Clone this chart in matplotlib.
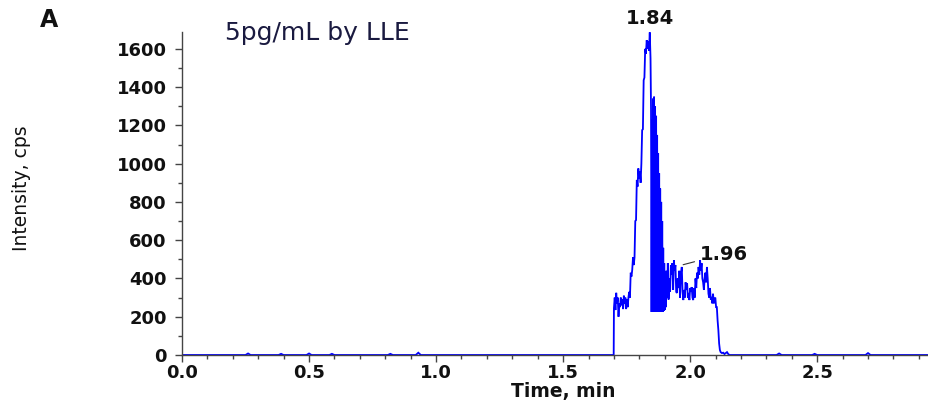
import matplotlib
matplotlib.use("Agg")
import matplotlib.pyplot as plt
from matplotlib.ticker import MultipleLocator, FormatStrFormatter

# ---------------- data ----------------
time_min = [
    0.00, 0.25, 0.26, 0.27, 0.38, 0.39, 0.40, 0.49, 0.50, 0.51, 0.58, 0.59, 0.60,
    0.81, 0.82, 0.83, 0.92, 0.93, 0.94, 1.699,
    1.700, 1.703, 1.706, 1.709, 1.712, 1.715, 1.718, 1.721, 1.724, 1.727, 1.730,
    1.733, 1.736, 1.739, 1.742, 1.745, 1.748, 1.751, 1.754, 1.757, 1.760, 1.763,
    1.766, 1.769, 1.772, 1.775, 1.778, 1.781, 1.784, 1.787, 1.790, 1.793, 1.796,
    1.799, 1.802, 1.805, 1.808, 1.811, 1.814, 1.817, 1.820, 1.823, 1.826, 1.829,
    1.832, 1.835, 1.838, 1.841, 1.844, 1.846,
    1.848, 1.850, 1.852, 1.854, 1.856, 1.858, 1.860, 1.862, 1.864, 1.866, 1.868,
    1.870, 1.872, 1.874, 1.876, 1.878, 1.880, 1.882, 1.884, 1.886, 1.888, 1.890,
    1.892, 1.894, 1.896, 1.898, 1.900, 1.902, 1.904, 1.906,
    1.909, 1.912, 1.915, 1.918, 1.921, 1.924, 1.927, 1.930, 1.933, 1.936, 1.939,
    1.942, 1.945, 1.948, 1.951, 1.954, 1.957, 1.960, 1.963, 1.967, 1.970, 1.973,
    1.976, 1.979, 1.982, 1.985, 1.988, 1.991, 1.994, 1.997, 2.000, 2.003, 2.006,
    2.009, 2.012, 2.015, 2.018, 2.021, 2.024, 2.027, 2.030, 2.033, 2.036, 2.039,
    2.042, 2.045, 2.048, 2.051, 2.054, 2.057, 2.060, 2.063, 2.066, 2.069, 2.072,
    2.075, 2.078, 2.081, 2.084, 2.087, 2.090, 2.093, 2.096, 2.099, 2.102, 2.105,
    2.108, 2.111, 2.114, 2.117, 2.120, 2.125, 2.130, 2.135, 2.140, 2.145, 2.150,
    2.155, 2.34, 2.35, 2.36, 2.48, 2.49, 2.50, 2.69, 2.70, 2.71, 2.94,
]
intensity_cps = [
    0, 0, 8, 0, 0, 6, 0, 0, 8, 0, 0, 6, 0,
    0, 6, 0, 0, 12, 0, 0,
    245, 300, 235, 325, 270, 300, 200, 270, 250, 300, 260,
    290, 240, 310, 270, 300, 240, 290, 250, 300, 330, 300,
    430, 410, 445, 510, 470, 510, 700, 705, 915, 880, 975,
    920, 960, 900, 1000, 1175, 1180, 1436, 1450, 1600, 1575, 1645,
    1600, 1640, 1590, 1686, 1550, 1280,
    225, 1230, 225, 1340, 230, 1350, 225, 1300, 230, 1250, 225,
    1150, 230, 1055, 225, 950, 230, 870, 225, 800, 230, 700,
    225, 560, 230, 480, 235, 430, 250, 440,
    300, 480, 290, 400, 330, 470, 420, 480, 340, 496, 440,
    470, 330, 324, 400, 350, 440, 300, 420, 460, 330, 287,
    340, 300, 380, 340, 375, 300, 324, 287, 350, 330, 355,
    300, 287, 350, 300, 400, 350, 430, 400, 460, 420, 496,
    440, 480, 400, 380, 340, 400, 430, 380, 460, 400, 320,
    300, 350, 290, 303, 270, 320, 270, 290, 300, 250, 250,
    180, 130, 60, 26, 15, 10, 12, 5, 10, 15, 5,
    0, 0, 8, 0, 0, 6, 0, 0, 10, 0, 0,
]

peak_labels = ["1.84", "1.96"]
peak_times = [1.841, 1.967]
peak_heights = [1686, 460]

panel_label = "A"
sample_label = "5pg/mL by LLE"
x_label = "Time, min"
y_label = "Intensity, cps"

# ---------------- figure ----------------
W, H = 929, 407
fig = plt.figure(figsize=(W / 100, H / 100), dpi=100)
ax = fig.add_axes([182 / W, (H - 355) / H, (W - 182) / W, (355 - 32) / H])

ax.plot(time_min, intensity_cps, color="#0000ff", lw=1.3, solid_joinstyle="miter")

ax.set_xlim(0, 2.94)
ax.set_ylim(0, 1688)

for s in ["top", "right"]:
    ax.spines[s].set_visible(False)
for s in ["left", "bottom"]:
    ax.spines[s].set_color("#444444")
    ax.spines[s].set_linewidth(1.0)

ax.xaxis.set_major_locator(MultipleLocator(0.5))
ax.xaxis.set_minor_locator(MultipleLocator(0.1))
ax.yaxis.set_major_locator(MultipleLocator(200))
ax.yaxis.set_minor_locator(MultipleLocator(100))
ax.xaxis.set_major_formatter(FormatStrFormatter("%.1f"))

ax.tick_params(axis="both", which="major", direction="out", length=5, width=1,
               color="#444444")
ax.tick_params(axis="both", which="minor", direction="out", length=3, width=1,
               color="#444444")
ax.tick_params(axis="y", which="major", pad=6)
ax.tick_params(axis="x", which="major", pad=1.5)
for lab in ax.get_xticklabels() + ax.get_yticklabels():
    lab.set_fontfamily("DejaVu Sans")
    lab.set_fontweight("bold")
    lab.set_fontsize(13)
    lab.set_color("#111111")

fig.text(563 / W, 1 - 392 / H, x_label, ha="center", va="center",
         fontsize=13.5, fontweight="bold", family="DejaVu Sans", color="#111111")
fig.text(22 / W, 1 - 188 / H, y_label, ha="center", va="center", rotation=90,
         fontsize=13.5, family="DejaVu Sans", color="#111111")

fig.text(40 / W, 1 - 27 / H, panel_label, ha="left", va="baseline",
         fontsize=17, fontweight="bold", family="DejaVu Sans", color="#111111")
fig.text(225 / W, 1 - 33 / H, sample_label, ha="left", va="center",
         fontsize=18, family="DejaVu Sans", color="#1a1a40")

# peak annotations
ax.annotate(peak_labels[0], xy=(peak_times[0], peak_heights[0]),
            xytext=(650 / W, 1 - 18 / H), textcoords="figure fraction",
            ha="center", va="center", fontsize=14, fontweight="bold",
            family="DejaVu Sans", color="#111111", annotation_clip=False)
ax.annotate(peak_labels[1], xy=(peak_times[1], peak_heights[1] + 10),
            xytext=(700 / W, 1 - 254 / H), textcoords="figure fraction",
            ha="left", va="center", fontsize=14, fontweight="bold",
            family="DejaVu Sans", color="#111111",
            arrowprops=dict(arrowstyle="-", color="#333333", lw=0.8,
                            shrinkA=2, shrinkB=1))

fig.savefig("out.png", dpi=100)
